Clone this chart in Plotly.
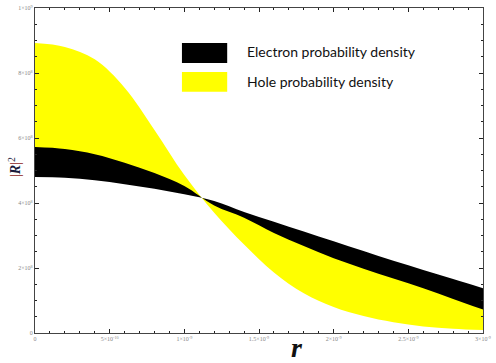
import plotly.graph_objects as go

# radial coordinate (m)
r = [0.0, 0.2e-9, 0.4e-9, 0.6e-9, 0.8e-9, 1.0e-9, 1.2e-9, 1.4e-9, 1.6e-9,
     1.8e-9, 2.0e-9, 2.2e-9, 2.4e-9, 2.6e-9, 2.8e-9, 3.0e-9]

# electron band edges |R|^2
electron_a = [5.72e8, 5.66e8, 5.50e8, 5.24e8, 4.92e8, 4.52e8, 3.92e8, 3.55e8,
              3.08e8, 2.68e8, 2.30e8, 1.98e8, 1.68e8, 1.38e8, 1.05e8, 0.72e8]
electron_b = [4.80e8, 4.78e8, 4.70e8, 4.58e8, 4.44e8, 4.27e8, 4.06e8, 3.72e8,
              3.42e8, 3.12e8, 2.82e8, 2.52e8, 2.22e8, 1.94e8, 1.66e8, 1.38e8]

# hole band edges |R|^2
hole_a = [8.92e8, 8.80e8, 8.42e8, 7.55e8, 6.25e8, 4.86e8, 3.70e8, 2.72e8,
          1.86e8, 1.22e8, 0.80e8, 0.52e8, 0.33e8, 0.20e8, 0.13e8, 0.09e8]
hole_b = [5.26e8, 5.22e8, 5.10e8, 4.91e8, 4.68e8, 4.40e8, 3.99e8, 3.64e8,
          3.25e8, 2.90e8, 2.56e8, 2.25e8, 1.95e8, 1.66e8, 1.35e8, 1.05e8]

x_ticks = [0, 5e-10, 1e-9, 1.5e-9, 2e-9, 2.5e-9, 3e-9]
x_labels = ["0", "5×10<sup>-10</sup>", "1×10<sup>-9</sup>", "1.5×10<sup>-9</sup>",
            "2×10<sup>-9</sup>", "2.5×10<sup>-9</sup>", "3×10<sup>-9</sup>"]
y_ticks = [0, 2e8, 4e8, 6e8, 8e8, 1e9]
y_labels = ["0", "2×10<sup>8</sup>", "4×10<sup>8</sup>", "6×10<sup>8</sup>",
            "8×10<sup>8</sup>", "1×10<sup>9</sup>"]

YELLOW = "#ffff00"
BLACK = "#000000"
AXIS = "#444444"
TICKTXT = "#888888"

fig = go.Figure()

# hole band (drawn first, under the electron band)
fig.add_trace(go.Scatter(x=r, y=hole_b, mode="lines", line=dict(width=0, shape="spline"),
                         hoverinfo="skip", showlegend=False))
fig.add_trace(go.Scatter(x=r, y=hole_a, mode="lines", line=dict(width=0, shape="spline"),
                         fill="tonexty", fillcolor=YELLOW, showlegend=False))

# electron band
fig.add_trace(go.Scatter(x=r, y=electron_b, mode="lines", line=dict(width=0, shape="spline"),
                         hoverinfo="skip", showlegend=False))
fig.add_trace(go.Scatter(x=r, y=electron_a, mode="lines", line=dict(width=0, shape="spline"),
                         fill="tonexty", fillcolor=BLACK, showlegend=False))

axis_common = dict(
    showline=True, linecolor=AXIS, linewidth=1.3, mirror="ticks",
    ticks="inside", ticklen=4, tickwidth=1, tickcolor="#222222",
    showgrid=False, zeroline=False, automargin=False,
    tickfont=dict(family="Liberation Serif", size=6, color=TICKTXT),
)

fig.update_xaxes(
    **axis_common,
    range=[0, 3e-9],
    tickvals=x_ticks, ticktext=x_labels,
    minor=dict(dtick=1e-10, ticks="inside", ticklen=2, tickcolor="#222222"),
)
fig.update_yaxes(
    **axis_common,
    range=[0, 1e9],
    tickvals=y_ticks, ticktext=y_labels,
    minor=dict(dtick=0.5e8, ticks="inside", ticklen=2, tickcolor="#222222"),
)

# legend swatches and labels
fig.add_shape(type="rect", xref="paper", yref="paper", x0=0.328, x1=0.429, y0=0.831, y1=0.892,
              fillcolor=BLACK, line=dict(width=0))
fig.add_shape(type="rect", xref="paper", yref="paper", x0=0.328, x1=0.429, y0=0.742, y1=0.803,
              fillcolor=YELLOW, line=dict(width=0))
legend_font = dict(family="Lato", size=14, color="#111111")
fig.add_annotation(text="Electron probability density", xref="paper", yref="paper",
                   x=0.469, y=0.865, xanchor="left", yanchor="middle", showarrow=False, font=legend_font)
fig.add_annotation(text="Hole probability density", xref="paper", yref="paper",
                   x=0.469, y=0.775, xanchor="left", yanchor="middle", showarrow=False, font=legend_font)

# axis titles
fig.add_annotation(text="<span style='color:#8b1a1a'>|</span><b><i>R</i></b>"
                        "<span style='color:#8b1a1a'>|</span><sup>2</sup>",
                   xref="paper", yref="paper", x=-0.045, y=0.51, textangle=-90,
                   showarrow=False, xanchor="center", yanchor="middle",
                   font=dict(family="Liberation Serif", size=14, color="#1a1a3a"))
fig.add_annotation(text="<b><i>r</i></b>", xref="paper", yref="paper", x=0.585, y=-0.045,
                   xanchor="center", yanchor="middle", showarrow=False,
                   font=dict(family="Liberation Serif", size=28, color="#111111"))

fig.update_layout(
    width=496, height=363,
    paper_bgcolor="white", plot_bgcolor="white",
    margin=dict(l=35, r=13, t=8, b=30, autoexpand=False),
    showlegend=False,
)

# drop the default body margin so the figure sits at the page corner
fig.write_html("out.html", config={"displayModeBar": False},
               post_script="document.body.style.margin='0';")
